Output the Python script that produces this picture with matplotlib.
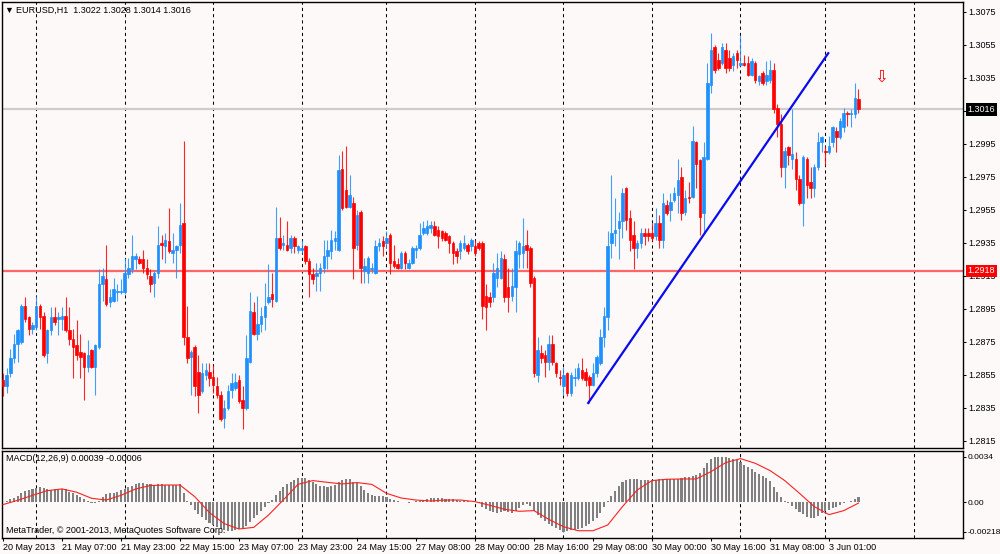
import matplotlib
matplotlib.use("Agg")
import matplotlib.pyplot as plt

plt.rcParams['font.family'] = ['Liberation Sans', 'DejaVu Sans']

# EURUSD H1 candles, 20 May 2013 15:00 .. 3 Jun 2013 09:00
opens = [
    1.2852, 1.2848, 1.2856, 1.2865, 1.2874, 1.2875, 1.2897, 1.2890, 1.2883, 1.2884,
    1.2897, 1.2891, 1.2868, 1.2882, 1.2890, 1.2889, 1.2889, 1.2891, 1.2882, 1.2877,
    1.2873, 1.2869, 1.2868, 1.2860, 1.2870, 1.2860, 1.2872, 1.2910, 1.2913, 1.2899,
    1.2900, 1.2905, 1.2905, 1.2905, 1.2916, 1.2919, 1.2925, 1.2925, 1.2925, 1.2920,
    1.2915, 1.2911, 1.2917, 1.2935, 1.2933, 1.2936, 1.2929, 1.2931, 1.2934, 1.2947,
    1.2878, 1.2866, 1.2872, 1.2857, 1.2845, 1.2855, 1.2857, 1.2854, 1.2848, 1.2843,
    1.2829, 1.2835, 1.2846, 1.2847, 1.2852, 1.2840, 1.2835, 1.2863, 1.2893, 1.2880,
    1.2886, 1.2890, 1.2899, 1.2904, 1.2900, 1.2938, 1.2934, 1.2934, 1.2932, 1.2938,
    1.2931, 1.2931, 1.2933, 1.2924, 1.2916, 1.2915, 1.2917, 1.2920, 1.2927, 1.2930,
    1.2936, 1.2931, 1.2980, 1.2967, 1.2957, 1.2959, 1.2934, 1.2954, 1.2918, 1.2917,
    1.2919, 1.2917, 1.2933, 1.2936, 1.2935, 1.2940, 1.2924, 1.2922, 1.2920, 1.2929,
    1.2920, 1.2923, 1.2931, 1.2932, 1.2941, 1.2941, 1.2944, 1.2945, 1.2943, 1.2942,
    1.2941, 1.2939, 1.2935, 1.2930, 1.2930, 1.2932, 1.2934, 1.2933, 1.2933, 1.2935,
    1.2935, 1.2903, 1.2902, 1.2902, 1.2914, 1.2914, 1.2925, 1.2908, 1.2903, 1.2908,
    1.2928, 1.2929, 1.2934, 1.2932, 1.2914, 1.2855, 1.2868, 1.2867, 1.2863, 1.2874,
    1.2862, 1.2854, 1.2848, 1.2856, 1.2844, 1.2853, 1.2853, 1.2858, 1.2857, 1.2854,
    1.2849, 1.2856, 1.2862, 1.2878, 1.2890, 1.2935, 1.2941, 1.2944, 1.2948, 1.2968,
    1.2950, 1.2940, 1.2932, 1.2935, 1.2941, 1.2941, 1.2941, 1.2939, 1.2947, 1.2937,
    1.2958, 1.2955, 1.2961, 1.2964, 1.2975, 1.2954, 1.2963, 1.2963, 1.2996, 1.2985,
    1.2953, 1.2986, 1.3031, 1.3054, 1.3046, 1.3044, 1.3052, 1.3047, 1.3043, 1.3050,
    1.3043, 1.3044, 1.3044, 1.3037, 1.3044, 1.3033, 1.3038, 1.3033, 1.3034, 1.3040,
    1.3017, 1.3007, 1.2981, 1.2993, 1.2986, 1.2986, 1.2974, 1.2959, 1.2986, 1.2972,
    1.2968, 1.2981, 1.2996, 1.2991, 1.2990, 1.2996, 1.3003, 1.2999, 1.3005, 1.3014,
    1.3013, 1.3013, 1.3022]

highs = [
    1.2856, 1.2859, 1.2871, 1.2880, 1.2883, 1.2898, 1.2902, 1.2891, 1.2887, 1.2903,
    1.2898, 1.2893, 1.2883, 1.2896, 1.2896, 1.2893, 1.2896, 1.2902, 1.2896, 1.2883,
    1.2888, 1.2880, 1.2869, 1.2876, 1.2871, 1.2874, 1.2919, 1.2920, 1.2934, 1.2907,
    1.2914, 1.2910, 1.2913, 1.2926, 1.2926, 1.2940, 1.2929, 1.2927, 1.2931, 1.2925,
    1.2919, 1.2918, 1.2945, 1.2940, 1.2941, 1.2956, 1.2941, 1.2934, 1.2959, 1.2997,
    1.2897, 1.2870, 1.2873, 1.2867, 1.2862, 1.2862, 1.2862, 1.2861, 1.2854, 1.2845,
    1.2840, 1.2849, 1.2856, 1.2856, 1.2855, 1.2848, 1.2879, 1.2905, 1.2899, 1.2903,
    1.2896, 1.2911, 1.2922, 1.2917, 1.2957, 1.2951, 1.2940, 1.2948, 1.2940, 1.2939,
    1.2934, 1.2937, 1.2934, 1.2926, 1.2920, 1.2923, 1.2923, 1.2937, 1.2937, 1.2943,
    1.2942, 1.2988, 1.2991, 1.2994, 1.2976, 1.2963, 1.2955, 1.2955, 1.2926, 1.2927,
    1.2923, 1.2937, 1.2938, 1.2939, 1.2942, 1.2941, 1.2934, 1.2926, 1.2930, 1.2930,
    1.2925, 1.2933, 1.2934, 1.2947, 1.2948, 1.2949, 1.2948, 1.2948, 1.2945, 1.2943,
    1.2942, 1.2940, 1.2936, 1.2932, 1.2937, 1.2940, 1.2935, 1.2938, 1.2937, 1.2936,
    1.2936, 1.2910, 1.2905, 1.2923, 1.2929, 1.2930, 1.2928, 1.2920, 1.2920, 1.2937,
    1.2936, 1.2950, 1.2943, 1.2933, 1.2915, 1.2878, 1.2873, 1.2870, 1.2879, 1.2879,
    1.2863, 1.2858, 1.2860, 1.2857, 1.2857, 1.2859, 1.2862, 1.2865, 1.2859, 1.2855,
    1.2862, 1.2867, 1.2883, 1.2896, 1.2942, 1.2976, 1.2962, 1.2954, 1.2968, 1.2969,
    1.2955, 1.2948, 1.2937, 1.2944, 1.2944, 1.2944, 1.2947, 1.2956, 1.2952, 1.2965,
    1.2961, 1.2965, 1.2969, 1.2986, 1.2981, 1.2967, 1.2972, 1.3006, 1.2997, 1.2986,
    1.2996, 1.3044, 1.3062, 1.3055, 1.3050, 1.3056, 1.3056, 1.3052, 1.3050, 1.3052,
    1.3061, 1.3049, 1.3048, 1.3047, 1.3045, 1.3037, 1.3039, 1.3045, 1.3046, 1.3044,
    1.3019, 1.3013, 1.2993, 1.2994, 1.3016, 1.2990, 1.2976, 1.2988, 1.2987, 1.2981,
    1.2983, 1.3002, 1.3000, 1.2994, 1.3000, 1.3006, 1.3005, 1.3011, 1.3017, 1.3015,
    1.3016, 1.3032, 1.3028]

lows = [
    1.2842, 1.2844, 1.2854, 1.2862, 1.2863, 1.2874, 1.2887, 1.2879, 1.2880, 1.2882,
    1.2883, 1.2866, 1.2862, 1.2879, 1.2885, 1.2879, 1.2882, 1.2881, 1.2873, 1.2853,
    1.2864, 1.2853, 1.2840, 1.2857, 1.2859, 1.2843, 1.2871, 1.2900, 1.2897, 1.2896,
    1.2899, 1.2900, 1.2904, 1.2904, 1.2914, 1.2917, 1.2919, 1.2922, 1.2917, 1.2913,
    1.2905, 1.2902, 1.2914, 1.2925, 1.2923, 1.2929, 1.2923, 1.2914, 1.2929, 1.2873,
    1.2862, 1.2843, 1.2842, 1.2832, 1.2844, 1.2852, 1.2848, 1.2844, 1.2841, 1.2827,
    1.2823, 1.2834, 1.2841, 1.2846, 1.2838, 1.2822, 1.2834, 1.2862, 1.2879, 1.2876,
    1.2881, 1.2882, 1.2898, 1.2896, 1.2899, 1.2931, 1.2931, 1.2930, 1.2929, 1.2929,
    1.2929, 1.2929, 1.2922, 1.2902, 1.2910, 1.2906, 1.2906, 1.2917, 1.2919, 1.2925,
    1.2931, 1.2930, 1.2955, 1.2956, 1.2956, 1.2913, 1.2931, 1.2911, 1.2911, 1.2911,
    1.2917, 1.2916, 1.2930, 1.2927, 1.2932, 1.2916, 1.2920, 1.2919, 1.2919, 1.2919,
    1.2919, 1.2922, 1.2926, 1.2931, 1.2940, 1.2940, 1.2941, 1.2939, 1.2932, 1.2936,
    1.2936, 1.2929, 1.2922, 1.2923, 1.2925, 1.2931, 1.2928, 1.2930, 1.2927, 1.2931,
    1.2889, 1.2882, 1.2896, 1.2899, 1.2908, 1.2913, 1.2899, 1.2893, 1.2900, 1.2893,
    1.2920, 1.2920, 1.2920, 1.2908, 1.2854, 1.2851, 1.2862, 1.2854, 1.2858, 1.2861,
    1.2854, 1.2849, 1.2843, 1.2842, 1.2842, 1.2848, 1.2852, 1.2852, 1.2848, 1.2838,
    1.2848, 1.2854, 1.2861, 1.2872, 1.2882, 1.2926, 1.2933, 1.2925, 1.2938, 1.2943,
    1.2930, 1.2919, 1.2926, 1.2932, 1.2934, 1.2936, 1.2936, 1.2937, 1.2932, 1.2932,
    1.2952, 1.2948, 1.2960, 1.2953, 1.2949, 1.2952, 1.2959, 1.2962, 1.2968, 1.2940,
    1.2941, 1.2985, 1.3026, 1.3038, 1.3040, 1.3043, 1.3038, 1.3039, 1.3039, 1.3041,
    1.3042, 1.3042, 1.3036, 1.3036, 1.3032, 1.3031, 1.3031, 1.3031, 1.3032, 1.3014,
    1.2999, 1.2975, 1.2968, 1.2982, 1.2980, 1.2967, 1.2958, 1.2945, 1.2962, 1.2962,
    1.2963, 1.2979, 1.2990, 1.2982, 1.2989, 1.2993, 1.2990, 1.2998, 1.3002, 1.3006,
    1.3005, 1.3011, 1.3014]

closes = [
    1.2848, 1.2855, 1.2865, 1.2874, 1.2882, 1.2897, 1.2889, 1.2883, 1.2885, 1.2897,
    1.2890, 1.2867, 1.2882, 1.2890, 1.2887, 1.2890, 1.2891, 1.2882, 1.2877, 1.2872,
    1.2867, 1.2866, 1.2860, 1.2867, 1.2860, 1.2873, 1.2910, 1.2915, 1.2898, 1.2902,
    1.2907, 1.2906, 1.2906, 1.2917, 1.2920, 1.2927, 1.2927, 1.2923, 1.2920, 1.2916,
    1.2910, 1.2917, 1.2934, 1.2934, 1.2937, 1.2930, 1.2931, 1.2933, 1.2946, 1.2878,
    1.2865, 1.2869, 1.2848, 1.2843, 1.2856, 1.2858, 1.2853, 1.2849, 1.2843, 1.2828,
    1.2835, 1.2845, 1.2850, 1.2851, 1.2839, 1.2835, 1.2865, 1.2894, 1.2880, 1.2886,
    1.2891, 1.2897, 1.2902, 1.2901, 1.2938, 1.2932, 1.2935, 1.2931, 1.2938, 1.2933,
    1.2933, 1.2932, 1.2924, 1.2916, 1.2913, 1.2917, 1.2920, 1.2927, 1.2931, 1.2937,
    1.2938, 1.2979, 1.2956, 1.2957, 1.2964, 1.2932, 1.2952, 1.2920, 1.2921, 1.2926,
    1.2920, 1.2933, 1.2935, 1.2933, 1.2938, 1.2923, 1.2921, 1.2920, 1.2929, 1.2923,
    1.2923, 1.2932, 1.2932, 1.2940, 1.2944, 1.2945, 1.2946, 1.2940, 1.2939, 1.2938,
    1.2937, 1.2935, 1.2929, 1.2927, 1.2935, 1.2935, 1.2930, 1.2937, 1.2929, 1.2932,
    1.2897, 1.2896, 1.2899, 1.2917, 1.2920, 1.2926, 1.2902, 1.2902, 1.2909, 1.2930,
    1.2935, 1.2933, 1.2931, 1.2911, 1.2856, 1.2870, 1.2865, 1.2863, 1.2874, 1.2863,
    1.2856, 1.2853, 1.2855, 1.2844, 1.2855, 1.2854, 1.2859, 1.2853, 1.2852, 1.2849,
    1.2856, 1.2866, 1.2878, 1.2891, 1.2933, 1.2941, 1.2943, 1.2948, 1.2965, 1.2949,
    1.2937, 1.2932, 1.2935, 1.2941, 1.2939, 1.2939, 1.2938, 1.2947, 1.2937, 1.2959,
    1.2953, 1.2960, 1.2965, 1.2973, 1.2953, 1.2962, 1.2962, 1.2997, 1.2983, 1.2951,
    1.2987, 1.3032, 1.3052, 1.3040, 1.3041, 1.3054, 1.3041, 1.3041, 1.3048, 1.3046,
    1.3044, 1.3043, 1.3037, 1.3045, 1.3034, 1.3036, 1.3032, 1.3037, 1.3040, 1.3016,
    1.3007, 1.2981, 1.2991, 1.2988, 1.2989, 1.2974, 1.2959, 1.2987, 1.2970, 1.2968,
    1.2981, 1.2996, 1.2999, 1.2990, 1.2994, 1.3005, 1.2999, 1.3009, 1.3014, 1.3013,
    1.3014, 1.3023, 1.3016]

# MACD(12,26,9) main values (histogram), one per candle
macd = [
    0.00005, 0.00012, 0.00022, 0.00030, 0.00047, 0.00072, 0.00085, 0.00092, 0.00097, 0.00110,
    0.00117, 0.00110, 0.00097, 0.00092, 0.00097, 0.00097, 0.00100, 0.00097, 0.00080, 0.00067,
    0.00052, 0.00037, 0.00022, 0.00010, -0.00002, -0.00007, 0.00012, 0.00037, 0.00060, 0.00067,
    0.00072, 0.00080, 0.00092, 0.00102, 0.00112, 0.00125, 0.00134, 0.00142, 0.00142, 0.00139,
    0.00134, 0.00129, 0.00134, 0.00134, 0.00132, 0.00132, 0.00129, 0.00129, 0.00137, 0.00067,
    0.00012, -0.00020, -0.00057, -0.00087, -0.00112, -0.00132, -0.00152, -0.00169, -0.00182, -0.00197,
    -0.00207, -0.00212, -0.00212, -0.00207, -0.00202, -0.00194, -0.00174, -0.00144, -0.00120, -0.00095,
    -0.00062, -0.00032, -0.00002, 0.00017, 0.00055, 0.00087, 0.00117, 0.00137, 0.00154, 0.00167,
    0.00179, 0.00184, 0.00179, 0.00167, 0.00149, 0.00137, 0.00125, 0.00122, 0.00117, 0.00125,
    0.00129, 0.00154, 0.00169, 0.00174, 0.00177, 0.00154, 0.00142, 0.00125, 0.00092, 0.00067,
    0.00055, 0.00050, 0.00047, 0.00047, 0.00037, 0.00025, 0.00017, 0.00010, 0.00005, 0.00000,
    -0.00002, 0.00002, 0.00007, 0.00012, 0.00017, 0.00025, 0.00030, 0.00030, 0.00030, 0.00030,
    0.00027, 0.00025, 0.00022, 0.00017, 0.00012, 0.00010, 0.00007, 0.00005, 0.00002, -0.00007,
    -0.00032, -0.00050, -0.00062, -0.00072, -0.00077, -0.00072, -0.00067, -0.00072, -0.00077, -0.00062,
    -0.00040, -0.00022, -0.00012, -0.00027, -0.00062, -0.00095, -0.00120, -0.00142, -0.00162, -0.00179,
    -0.00194, -0.00207, -0.00218, -0.00214, -0.00209, -0.00204, -0.00197, -0.00189, -0.00179, -0.00162,
    -0.00142, -0.00115, -0.00080, -0.00035, 0.00012, 0.00047, 0.00087, 0.00125, 0.00154, 0.00169,
    0.00177, 0.00174, 0.00172, 0.00169, 0.00169, 0.00169, 0.00169, 0.00169, 0.00172, 0.00172,
    0.00172, 0.00174, 0.00177, 0.00177, 0.00179, 0.00187, 0.00192, 0.00197, 0.00202, 0.00217,
    0.00254, 0.00296, 0.00321, 0.00336, 0.00341, 0.00341, 0.00339, 0.00334, 0.00326, 0.00314,
    0.00301, 0.00281, 0.00264, 0.00247, 0.00229, 0.00212, 0.00197, 0.00182, 0.00159, 0.00117,
    0.00080, 0.00042, 0.00010, -0.00007, -0.00027, -0.00047, -0.00070, -0.00087, -0.00107, -0.00120,
    -0.00117, -0.00102, -0.00082, -0.00067, -0.00057, -0.00045, -0.00032, -0.00020, -0.00007, 0.00002,
    0.00012, 0.00022, 0.00039]

# MACD signal line, read every 4th candle
signal_bars = list(range(0, 233, 4))
signal_vals = [
    -0.00017, 0.00015, 0.00052, 0.00087, 0.00100, 0.00075, 0.00030, 0.00017, 0.00052, 0.00100,
    0.00125, 0.00129, 0.00129, 0.00042, -0.00077, -0.00159, -0.00199, -0.00187, -0.00095, 0.00017,
    0.00134, 0.00162, 0.00149, 0.00137, 0.00147, 0.00134, 0.00067, 0.00032, 0.00017, 0.00010,
    0.00017, 0.00017, 0.00005, -0.00022, -0.00052, -0.00067, -0.00062, -0.00127, -0.00182, -0.00212,
    -0.00212, -0.00169, -0.00032, 0.00092, 0.00162, 0.00172, 0.00174, 0.00174, 0.00229, 0.00296,
    0.00326, 0.00291, 0.00237, 0.00162, 0.00067, -0.00032, -0.00092, -0.00062, -0.00006]

time_labels = ['20 May 2013', '21 May 07:00', '21 May 23:00', '22 May 15:00', '23 May 07:00',
               '23 May 23:00', '24 May 15:00', '27 May 08:00', '28 May 00:00', '28 May 16:00',
               '29 May 08:00', '30 May 00:00', '30 May 16:00', '31 May 08:00', '3 Jun 01:00']
label_bars = list(range(0, 225, 16))
day_bars = [9, 33, 57, 81, 104, 128, 152, 176, 200, 223, 247]   # midnight separators

price_ticks = [1.2815, 1.2835, 1.2855, 1.2875, 1.2895, 1.2915, 1.2935, 1.2955,
               1.2975, 1.2995, 1.3015, 1.3035, 1.3055, 1.3075]
macd_ticks = [0.0034, 0.0, -0.00218]
macd_tick_labels = ['0.0034', '0.00', '-0.00218']

level_price = 1.2918
trend_bars = [158.7, 223.8]
trend_prices = [1.2838, 1.3050]
arrow_bar, arrow_price = 238, 1.3041

bg = '#fdf9f8'
up_col = '#1e90ff'
dn_col = '#ff0000'

fig = plt.figure(figsize=(10, 5.54), dpi=100, facecolor=bg)
ax1 = fig.add_axes([0.002, 0.1922, 0.961, 0.8047], facecolor=bg)
ax2 = fig.add_axes([0.002, 0.0294, 0.961, 0.1574], facecolor=bg)

bars = list(range(len(closes)))
cols = [up_col if c >= o else dn_col for o, c in zip(opens, closes)]
bottoms = [min(o, c) for o, c in zip(opens, closes)]
heights = [abs(c - o) for o, c in zip(opens, closes)]

# chart
ax1.axhline(closes[-1], color='#cccccc', lw=1.6, zorder=2)
ax1.axhline(level_price, color='#ff6666', lw=1.6, zorder=2)
ax1.vlines(bars, lows, highs, colors=cols, linewidth=0.8, alpha=0.85, zorder=3)
ax1.bar(bars, heights, bottom=bottoms, width=0.68, color=cols, edgecolor=cols,
        linewidth=0.5, zorder=4)
ax1.plot(trend_bars, trend_prices, color='#0a0aee', lw=1.6, zorder=5)
ax1.text(arrow_bar, arrow_price, '\u21e9', color='red', fontsize=12, ha='center',
         va='top', family='DejaVu Sans', zorder=6)

# macd window
ax2.bar(bars, macd, width=0.55, color='#808080', zorder=3)
ax2.plot(signal_bars, signal_vals, color='#ff2020', lw=0.8, zorder=4)

for ax in (ax1, ax2):
    ax.set_xlim(-0.27, 260.34)
    for b in day_bars:
        ax.axvline(b, color='black', lw=0.75, ls=(0, (3, 3)), zorder=1)
    for s in ax.spines.values():
        s.set_color('black')
        s.set_linewidth(1.0)
    ax.yaxis.tick_right()
    ax.tick_params(axis='y', direction='out', length=2.2, width=0.75, pad=1.5,
                   labelsize=6.5, colors='black')

ax1.set_ylim(1.28110, 1.30812)
ax1.set_xticks([])
ax1.set_yticks(price_ticks)
# the 1.3015 label sits under the bid box, as on the terminal
ax1.set_yticklabels(['' if abs(p - closes[-1]) < 0.0004 else '%.4f' % p
                     for p in price_ticks])

ax2.set_ylim(-0.002641, 0.003864)
ax2.set_yticks(macd_ticks)
ax2.set_yticklabels(macd_tick_labels)
ax2.tick_params(axis='y', labelsize=6.0, pad=0.8)
ax2.set_xticks(label_bars)
ax2.set_xticklabels(time_labels, ha='left', fontsize=6.5)
ax2.tick_params(axis='x', direction='out', length=2.2, width=0.75, pad=1.5)

# price boxes on the scale
ytr = ax1.get_yaxis_transform()
ax1.text(1.005, closes[-1], '%.4f' % closes[-1], transform=ytr, color='white',
         fontsize=6.5, va='center', ha='left', clip_on=False, zorder=10,
         bbox=dict(boxstyle='square,pad=0.2', fc='black', ec='none'))
ax1.text(1.005, level_price, '%.4f' % level_price, transform=ytr, color='white',
         fontsize=6.5, va='center', ha='left', clip_on=False, zorder=10,
         bbox=dict(boxstyle='square,pad=0.2', fc='red', ec='none'))

# captions
fig.text(0.009, 1 - 10 / 554, '\u25bc', fontsize=6.5, ha='center', va='center')
fig.text(0.016, 1 - 10 / 554, 'EURUSD,H1  %.4f %.4f %.4f %.4f'
         % (opens[-1], highs[-1], lows[-1], closes[-1]), fontsize=6.5, va='center')
ax2.text(0.004, 0.914, 'MACD(12,26,9) %.5f %.5f' % (macd[-1], signal_vals[-1]),
         transform=ax2.transAxes, fontsize=6.5, va='center')
ax2.text(0.004, 0.088, 'MetaTrader, \u00a9 2001-2013, MetaQuotes Software Corp.',
         transform=ax2.transAxes, fontsize=6.5, va='center')

fig.savefig('out.png', dpi=100, facecolor=bg)
